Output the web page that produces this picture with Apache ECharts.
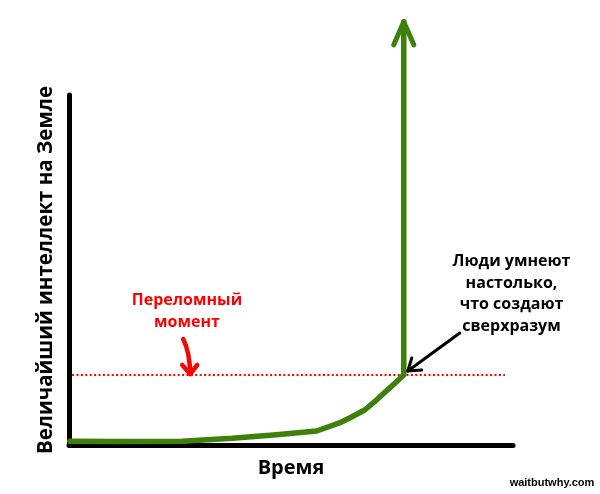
<!DOCTYPE html>
<html>
<head>
<meta charset="utf-8">
<script src="https://cdn.jsdelivr.net/npm/echarts@6/dist/echarts.min.js"></script>
<style>
html,body{margin:0;padding:0;background:#fff;}
#chart{width:600px;height:494px;}
</style>
</head>
<body>
<div id="chart"></div>
<script>
// ---- data ----
const timeX = [0.2, 10.6, 25.5, 36.8, 46.7, 55.8, 60.9, 63.2, 66.6, 69.3, 72.9, 75.4, 75.4];
const intelligence = [1.1, 1.0, 1.1, 1.9, 2.9, 4.0, 6.3, 7.7, 10.0, 12.9, 17.1, 20.0, 120.9];
const thresholdValue = 20;
const thresholdSpan = [0.7, 98.2];
const tippingX = 27.3;
const xAxisTitle = 'Время';
const yAxisTitle = 'Величайший интеллект на Земле';
const tippingLabel = ['Переломный', 'момент'];
const superLabel = ['Люди умнеют', 'настолько,', 'что создают', 'сверхразум'];
const credit = 'waitbutwhy.com';

const GREEN = '#3f7f0b';
const FONT = '"Open Sans", "DejaVu Sans", sans-serif';

const curveData = timeX.map((x, i) => [x, intelligence[i]]);
const thresholdData = thresholdSpan.map(x => [x, thresholdValue]);

const chart = echarts.init(document.getElementById('chart'), null, {renderer: 'canvas'});
chart.setOption({
  backgroundColor: '#fff',
  animation: false,
  grid: {left: 69, right: 87, top: 95, bottom: 49},
  xAxis: {
    type: 'value', min: 0, max: 100,
    name: xAxisTitle, nameLocation: 'middle', nameGap: 13,
    nameTextStyle: {fontFamily: FONT, fontWeight: 'bold', fontSize: 20, color: '#000'},
    axisLine: {show: true, lineStyle: {color: '#000', width: 5, cap: 'round'}},
    axisTick: {show: false}, axisLabel: {show: false}, splitLine: {show: false}
  },
  yAxis: {
    type: 'value', min: 0, max: 100,
    name: yAxisTitle, nameLocation: 'middle', nameGap: 12,
    nameTextStyle: {fontFamily: FONT, fontWeight: 'bold', fontSize: 20.5, color: '#000'},
    axisLine: {show: true, lineStyle: {color: '#000', width: 5, cap: 'round'}},
    axisTick: {show: false}, axisLabel: {show: false}, splitLine: {show: false}
  },
  series: [
    {
      type: 'line', data: thresholdData, symbol: 'none', silent: true,
      lineStyle: {color: '#ff0000', width: 2, type: [2, 2.4]}
    },
    {
      type: 'line', data: curveData, symbol: 'none', clip: false, silent: true,
      lineStyle: {color: GREEN, width: 5.5, cap: 'round', join: 'round'}
    }
  ]
});

// annotations anchored to data points via the axes
const peakPx = chart.convertToPixel({gridIndex: 0}, curveData[curveData.length - 1]);
const cornerPx = chart.convertToPixel({gridIndex: 0}, curveData[curveData.length - 2]);
const tipPx = chart.convertToPixel({gridIndex: 0}, [tippingX, thresholdValue]);

const graphics = [];
// green arrow head
graphics.push({type: 'polyline', z: 10,
  shape: {points: [[peakPx[0] - 10, peakPx[1] + 23], [peakPx[0], peakPx[1]], [peakPx[0] + 10, peakPx[1] + 23]]},
  style: {stroke: GREEN, lineWidth: 5, fill: null, lineCap: 'round', lineJoin: 'round'}});
// red curved arrow
graphics.push({type: 'bezierCurve', z: 10,
  shape: {x1: tipPx[0] - 7, y1: tipPx[1] - 36, cpx1: tipPx[0] - 0.5, cpy1: tipPx[1] - 23, x2: tipPx[0], y2: tipPx[1] - 1},
  style: {stroke: '#ff0000', lineWidth: 4.5, fill: null, lineCap: 'round'}});
graphics.push({type: 'polyline', z: 10,
  shape: {points: [[tipPx[0] - 8, tipPx[1] - 10], [tipPx[0], tipPx[1] - 1], [tipPx[0] + 7, tipPx[1] - 10]]},
  style: {stroke: '#ff0000', lineWidth: 4.5, fill: null, lineCap: 'round', lineJoin: 'round'}});
// black arrow
const bt = [cornerPx[0] + 4, cornerPx[1] - 4];
graphics.push({type: 'line', z: 10,
  shape: {x1: bt[0] + 52, y1: bt[1] - 38, x2: bt[0], y2: bt[1]},
  style: {stroke: '#000', lineWidth: 3, lineCap: 'round'}});
graphics.push({type: 'polyline', z: 10,
  shape: {points: [[bt[0] + 4, bt[1] - 13], [bt[0], bt[1]], [bt[0] + 14, bt[1] - 1]]},
  style: {stroke: '#000', lineWidth: 3, fill: null, lineCap: 'round', lineJoin: 'round'}});
// red label
tippingLabel.forEach((t, i) => graphics.push({type: 'text', z: 10, x: 187, y: 300 + i * 22,
  style: {text: t, fill: '#ff0000', font: 'bold 16px ' + FONT, align: 'center', verticalAlign: 'middle'}}));
// black label
superLabel.forEach((t, i) => graphics.push({type: 'text', z: 10, x: 511.5, y: 261.5 + i * 21.5,
  style: {text: t, fill: '#000', font: 'bold 16px ' + FONT, align: 'center', verticalAlign: 'middle'}}));
// credit
graphics.push({type: 'text', z: 10, x: 552, y: 483,
  style: {text: credit, fill: '#000', font: 'bold 11px "Liberation Sans", Arial, sans-serif', align: 'center', verticalAlign: 'middle'}});

chart.setOption({graphic: graphics});
</script>
</body>
</html>
